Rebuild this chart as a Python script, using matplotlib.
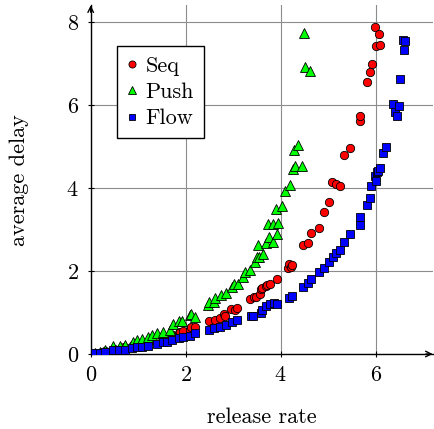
import matplotlib
matplotlib.use("Agg")
import matplotlib.pyplot as plt

plt.rcParams['font.family'] = ['cmr10', 'DejaVu Serif']
plt.rcParams['axes.formatter.use_mathtext'] = True

seq_x = [0.10, 0.30, 0.50, 0.70, 0.90, 1.10, 1.30, 1.50, 1.60, 1.71, 1.72, 1.85, 1.88,
         1.95, 2.09, 2.11, 2.20, 2.49, 2.61, 2.73, 2.80, 2.83, 2.96, 3.04, 3.08,
         3.36, 3.43, 3.47, 3.57, 3.59, 3.61, 3.68, 3.71, 3.78, 3.93, 4.15, 4.17,
         4.21, 4.24, 4.47, 4.57, 4.64, 4.81, 4.91, 5.02, 5.09, 5.16, 5.24, 5.33,
         5.45, 5.67, 5.67, 5.81, 5.88, 5.92, 5.98, 6.01, 6.06, 6.10]
seq_y = [0.03, 0.07, 0.12, 0.16, 0.22, 0.27, 0.33, 0.40, 0.42, 0.46, 0.46, 0.50, 0.54,
         0.56, 0.58, 0.64, 0.64, 0.80, 0.83, 0.86, 0.96, 0.92, 1.09, 1.06, 1.12,
         1.32, 1.38, 1.38, 1.45, 1.56, 1.58, 1.64, 1.66, 1.70, 1.81, 2.07, 2.16,
         2.10, 2.14, 2.62, 2.68, 2.91, 3.05, 3.43, 3.67, 4.14, 4.11, 4.05, 4.80,
         4.96, 5.62, 5.74, 6.55, 6.81, 7.00, 7.89, 7.43, 7.72, 7.46]

push_x = [0.08, 0.19, 0.30, 0.47, 0.61, 0.72, 0.89, 0.97, 1.07, 1.21, 1.30, 1.39,
          1.52, 1.67, 1.73, 1.85, 1.92, 2.09, 2.11, 2.20, 2.47, 2.48, 2.59, 2.62,
          2.75, 2.85, 2.97, 3.01, 3.11, 3.21, 3.24, 3.36, 3.45, 3.50, 3.52, 3.54,
          3.62, 3.70, 3.73, 3.76, 3.83, 3.84, 3.91, 3.93, 3.95, 4.03, 4.10, 4.19,
          4.26, 4.28, 4.31, 4.36, 4.44, 4.50, 4.52, 4.61]
push_y = [0.03, 0.06, 0.10, 0.19, 0.19, 0.22, 0.30, 0.34, 0.35, 0.42, 0.46, 0.50,
          0.54, 0.59, 0.72, 0.80, 0.80, 0.94, 0.96, 0.90, 1.18, 1.26, 1.26, 1.34,
          1.42, 1.48, 1.61, 1.69, 1.70, 1.86, 1.98, 2.02, 2.21, 2.33, 2.63, 2.33,
          2.42, 2.67, 3.13, 2.81, 2.69, 3.13, 3.49, 2.89, 3.15, 3.57, 3.94, 4.07,
          4.46, 4.92, 4.54, 5.04, 4.54, 7.73, 6.92, 6.82]

flow_x = [0.08, 0.19, 0.30, 0.47, 0.59, 0.72, 0.86, 0.97, 1.07, 1.21, 1.40, 1.52,
          1.60, 1.71, 1.85, 1.95, 2.09, 2.20, 2.48, 2.59, 2.73, 2.85, 2.97, 3.08,
          3.38, 3.42, 3.59, 3.61, 3.68, 3.78, 3.85, 3.93, 4.17, 4.24, 4.47, 4.57,
          4.64, 4.81, 4.91, 5.02, 5.10, 5.17, 5.24, 5.33, 5.45, 5.67, 5.67, 5.81,
          5.88, 5.90, 5.98, 6.01, 6.02, 6.05, 6.10, 6.15, 6.22, 6.37, 6.41, 6.44,
          6.50, 6.51, 6.57, 6.59, 6.62]
flow_y = [0.02, 0.03, 0.05, 0.10, 0.10, 0.10, 0.14, 0.18, 0.18, 0.20, 0.24, 0.28,
          0.30, 0.34, 0.38, 0.42, 0.44, 0.50, 0.59, 0.62, 0.66, 0.70, 0.78, 0.82,
          0.92, 0.92, 0.98, 1.06, 1.16, 1.20, 1.22, 1.20, 1.34, 1.40, 1.61, 1.72,
          1.80, 1.98, 2.08, 2.22, 2.34, 2.44, 2.51, 2.71, 2.89, 3.12, 3.31, 3.60,
          3.77, 4.06, 4.30, 4.18, 4.40, 4.42, 4.49, 4.85, 5.00, 6.02, 5.84, 5.73,
          5.99, 6.64, 7.58, 7.34, 7.54]

x_ticks = [0, 2, 4, 6]
y_ticks = [0, 2, 4, 6, 8]

fig = plt.figure(figsize=(4.34, 4.29), dpi=100)
ax = fig.add_axes([90.7 / 434, 75 / 429, 342 / 434, 348.7 / 429])
ax.set_xlim(0, 7.2)
ax.set_ylim(0, 8.41)

ms = 6.0
ax.plot(seq_x, seq_y, linestyle='none', marker='o', markersize=ms, markerfacecolor='#ff0000',
        markeredgecolor='black', markeredgewidth=0.6, label='Seq', zorder=3)
ax.plot(push_x, push_y, linestyle='none', marker='^', markersize=ms + 0.6, markerfacecolor='#00ff00',
        markeredgecolor='black', markeredgewidth=0.6, label='Push', zorder=3)
ax.plot(flow_x, flow_y, linestyle='none', marker='s', markersize=ms - 0.3, markerfacecolor='#0000ff',
        markeredgecolor='black', markeredgewidth=0.6, label='Flow', zorder=3)

ax.set_xticks(x_ticks)
ax.set_yticks(y_ticks)
ax.grid(True, color='#8c8c8c', linewidth=0.8)
ax.set_axisbelow(True)
for s in ['top', 'right']:
    ax.spines[s].set_visible(False)
for s in ['left', 'bottom']:
    ax.spines[s].set_linewidth(1.0)
ax.tick_params(axis='both', direction='inout', length=5, width=0.8, labelsize=16, pad=6)

# axis arrows
ax.annotate('', xy=(0, 1.0), xytext=(0, 0.98), xycoords='axes fraction',
            arrowprops=dict(arrowstyle='->', lw=1.0, color='black', shrinkA=0, shrinkB=0))
ax.annotate('', xy=(1.0, 0), xytext=(0.98, 0), xycoords='axes fraction',
            arrowprops=dict(arrowstyle='->', lw=1.0, color='black', shrinkA=0, shrinkB=0))

ax.set_xlabel('release rate', fontsize=16, labelpad=16)
ax.set_ylabel('average delay', fontsize=16, labelpad=27)

leg = ax.legend(loc='upper left', bbox_to_anchor=(0.076, 0.882), fontsize=16, frameon=True,
                fancybox=False, edgecolor='black', framealpha=1, handlelength=0.5,
                handletextpad=0.35, borderpad=0.45, labelspacing=0.3, numpoints=1,
                borderaxespad=0, markerscale=0.85)
leg.get_frame().set_linewidth(1.0)

fig.savefig('out.png', dpi=100)
